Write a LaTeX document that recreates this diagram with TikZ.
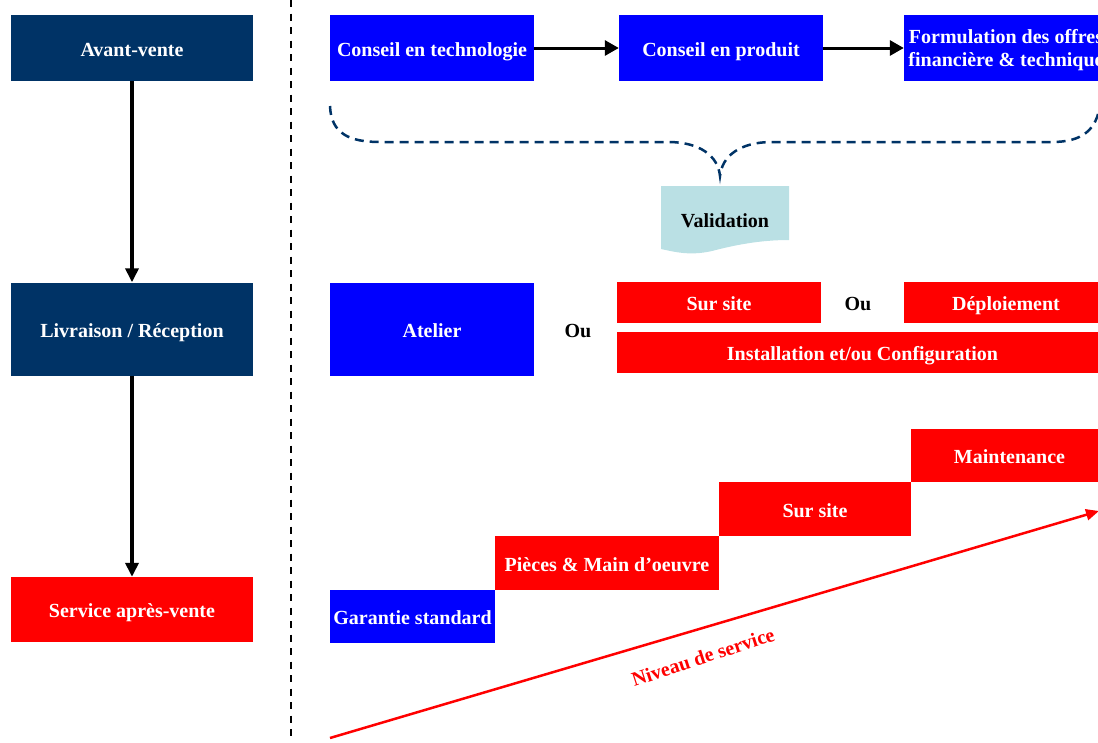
\documentclass[tikz,border=0pt]{standalone}
\usepackage{fontspec}
\setmainfont{Liberation Serif}
\usetikzlibrary{arrows.meta}
\definecolor{navy}{RGB}{0,51,102}
\definecolor{pureblue}{RGB}{0,0,255}
\definecolor{purered}{RGB}{255,0,0}
\definecolor{paleblue}{RGB}{186,224,228}
\begin{document}
\begin{tikzpicture}[x=1pt,y=-1pt,
  font=\fontsize{20}{23}\selectfont\bfseries,
  box/.style={inner sep=0pt,text=white,align=center},
  oneline/.style={text height=18pt,text depth=2pt},
  phase/.style={box,oneline,fill=navy,minimum width=242pt},
  bluebox/.style={box,fill=pureblue},
  redbox/.style={box,oneline,fill=purered},
  plain/.style={inner sep=0pt,text=black},
  flow/.style={line width=3pt,-{Triangle[length=14pt,width=15pt]}},
  stage/.style={line width=4.6pt,-{Triangle[length=14pt,width=13pt]}},
  brace/.style={navy,line width=2.5pt,dash pattern=on 9pt off 6pt},
]
\useasboundingbox (0,0) rectangle (1098,742);
\clip (0,0) rectangle (1098,742);

% left column: phases
\node[phase,minimum height=66pt] (avant) at (132,48) {Avant-vente};
\node[phase,minimum height=93pt] (livr) at (132,329) {Livraison / Réception};
\node[phase,fill=purered,minimum height=65pt] (sav) at (132,609.5) {Service après-vente};
\draw[stage] (avant) -- (livr);
\draw[stage] (livr) -- (sav);

% divider
\coordinate (dtop) at (291,0);
\coordinate (dbot) at (291,742);
\draw[line width=2.4pt,dash pattern=on 7pt off 6.5pt] (dtop) -- (dbot);

% pre-sales row
\node[bluebox,oneline,minimum width=204pt,minimum height=66pt] (tech) at (432,48) {Conseil en technologie};
\node[bluebox,oneline,minimum width=204pt,minimum height=66pt] (prod) at (721,48) {Conseil en produit};
\node[bluebox,minimum width=204pt,minimum height=66pt] (offre) at (1006,48)
  {\rule{0pt}{17.7pt}Formulation des offres\\financière \& technique};
\draw[flow] (tech) -- (prod);
\draw[flow] (prod) -- (offre);

% grouping brace
\coordinate (bl) at (330,106);
\coordinate (btip) at (720,176);
\coordinate (br) at (1100,104);
\draw[brace] (bl) .. controls (331,134) and (350,142) .. (380,142) -- (668,142)
  .. controls (700,142) and (718,156) .. (btip)
  .. controls (722,156) and (740,142) .. (772,142) -- (1052,142)
  .. controls (1082,142) and (1097,130) .. (br);

% validation document
\fill[paleblue] (661,186) -- (789,186) -- (789,240)
  .. controls (760,240) and (735,245) .. (712,251)
  .. controls (690,256) and (675,252) .. (661,249) -- cycle;
\node[plain] (valid) at (725,220.5) {Validation};

% delivery row
\node[bluebox,oneline,minimum width=204pt,minimum height=93pt] (atelier) at (432,329) {Atelier};
\node[plain] (ou1) at (578,331) {Ou};
\node[redbox,minimum width=204pt,minimum height=41pt] (site) at (719,302.5) {Sur site};
\node[plain] (ou2) at (858,304) {Ou};
\node[redbox,minimum width=204pt,minimum height=41pt] (deploi) at (1006,302.5) {Déploiement};
\node[redbox,minimum width=491pt,minimum height=41pt] (install) at (862.5,352.5) {Installation et/ou Configuration};

% after-sales staircase
\node[bluebox,oneline,minimum width=165pt,minimum height=53pt] (garantie) at (412.5,616.5) {Garantie standard};
\node[redbox,minimum width=224pt,minimum height=54pt] (pieces) at (607,563) {Pièces \& Main d’oeuvre};
\node[redbox,minimum width=192pt,minimum height=54pt] (site2) at (815,509) {Sur site};
\node[redbox,minimum width=197pt,minimum height=53pt] (maint) at (1009.5,455.5) {Maintenance};

% service level axis
\coordinate (nstart) at (330,738);
\coordinate (nend) at (1099,511);
\draw[purered,line width=2.5pt,-{Triangle[length=13pt,width=11pt]}] (nstart) -- (nend);
\node[plain,text=purered,rotate=18] (niveau) at (703,657) {Niveau de service};
\end{tikzpicture}
\end{document}
